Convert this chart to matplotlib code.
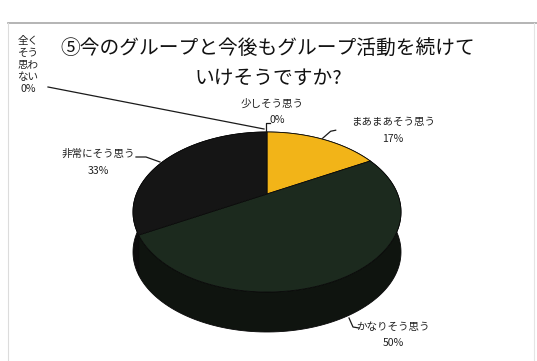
import numpy as np
import matplotlib
matplotlib.use('Agg')
import matplotlib.pyplot as plt
from matplotlib.patches import Polygon

plt.rcParams['font.family'] = ['Noto Sans CJK JP', 'DejaVu Sans']

# clockwise from 12 o'clock
labels = ['全く\nそう\n思わ\nない', '少しそう思う', 'まあまあそう思う', 'かなりそう思う', '非常にそう思う']
shares = [0, 0, 17, 50, 33]
top_colors = ['#1a1a1a', '#f2b418', '#f2b418', '#1c2a1e', '#151515']
side_colors = ['#0e0e0e', '#c08c10', '#c08c10', '#0f140f', '#0d0d0d']

title = '⑤今のグループと今後もグループ活動を続けて\nいけそうですか?'

# pie geometry (pixels) with a simple perspective tilt
cx, cy, rx, ry, depth = 267, 212, 134, 80, 40
tilt = -0.225
k = np.sqrt(1 - tilt ** 2)


def proj(theta):
    u = np.sin(theta)
    v = -np.cos(theta)
    d = 1 + tilt * v
    return cx + rx * k * u / d, cy + ry * (v + tilt) / d


apex = (cx, cy + ry * tilt)

fig = plt.figure(figsize=(5.37, 3.61), dpi=100)
ax = fig.add_axes([0, 0, 1, 1])
ax.set_xlim(0, 537)
ax.set_ylim(361, 0)
ax.axis('off')

# chart frame
ax.plot([8, 537], [23, 23], color='#a8a8a8', lw=1.2)
ax.plot([8, 8], [23, 361], color='#dcdcdc', lw=0.8)
ax.plot([534, 534], [23, 361], color='#e4e4e4', lw=0.8)

bounds = np.concatenate([[0], np.cumsum(shares)]) / sum(shares) * 2 * np.pi

# side walls first, then the top faces
for i in range(len(shares)):
    t0, t1 = bounds[i], bounds[i + 1]
    if t1 - t0 <= 0:
        continue
    t = np.linspace(t0, t1, 120)
    xs, ys = proj(t)
    pts = np.column_stack([np.r_[xs, xs[::-1]], np.r_[ys, ys[::-1] + depth]])
    ax.add_patch(Polygon(pts, closed=True, fc=side_colors[i], ec='#080808', lw=0.6, zorder=2))

for i in range(len(shares)):
    t0, t1 = bounds[i], bounds[i + 1]
    if t1 - t0 <= 0:
        continue
    t = np.linspace(t0, t1, 120)
    xs, ys = proj(t)
    pts = np.vstack([apex, np.column_stack([xs, ys])])
    ax.add_patch(Polygon(pts, closed=True, fc=top_colors[i], ec='#0a0a0a', lw=0.6, zorder=3))

ax.text(268, 64, title, ha='center', va='center', fontsize=14.2, color='#111111',
        linespacing=1.5)

lab_fs = 7.6
tcol = '#222222'
lcol = '#1a1a1a'
# 0% categories sit at 12 o'clock
x0, y0 = proj(bounds[0])
ax.text(28, 65, labels[0] + '\n' + f'{shares[0]}%', ha='center', va='center',
        fontsize=lab_fs, color=tcol, linespacing=1.25)
ax.plot([48, x0 - 3], [87, y0 - 3], color=lcol, lw=0.9, zorder=4)

ax.text(272, 104, labels[1], ha='center', va='center', fontsize=lab_fs, color=tcol)
ax.text(277, 120, f'{shares[1]}%', ha='center', va='center', fontsize=lab_fs, color=tcol)
ax.plot([x0 - 1, x0 - 1, x0 + 3], [y0 - 1, y0 - 9, y0 - 9], color=lcol, lw=0.9, zorder=4)

xm, ym = proj((bounds[2] + bounds[3]) / 2)
ax.text(393, 122, labels[2], ha='center', va='center', fontsize=lab_fs, color=tcol)
ax.text(393, 139, f'{shares[2]}%', ha='center', va='center', fontsize=lab_fs, color=tcol)
ax.plot([xm, xm + 8, xm + 13], [ym - 1, ym - 8, ym - 9], color=lcol, lw=0.9, zorder=4)

ax.text(98, 154, labels[4], ha='center', va='center', fontsize=lab_fs, color=tcol)
ax.text(98, 171, f'{shares[4]}%', ha='center', va='center', fontsize=lab_fs, color=tcol)
ax.plot([136, 146, 160], [157, 157, 162], color=lcol, lw=0.9, zorder=4)

ax.text(393, 327, labels[3], ha='center', va='center', fontsize=lab_fs, color=tcol)
ax.text(393, 343, f'{shares[3]}%', ha='center', va='center', fontsize=lab_fs, color=tcol)
ax.plot([349, 353, 359], [318, 327, 328], color=lcol, lw=0.9, zorder=4)

fig.savefig('out.png', dpi=100, facecolor='white')
